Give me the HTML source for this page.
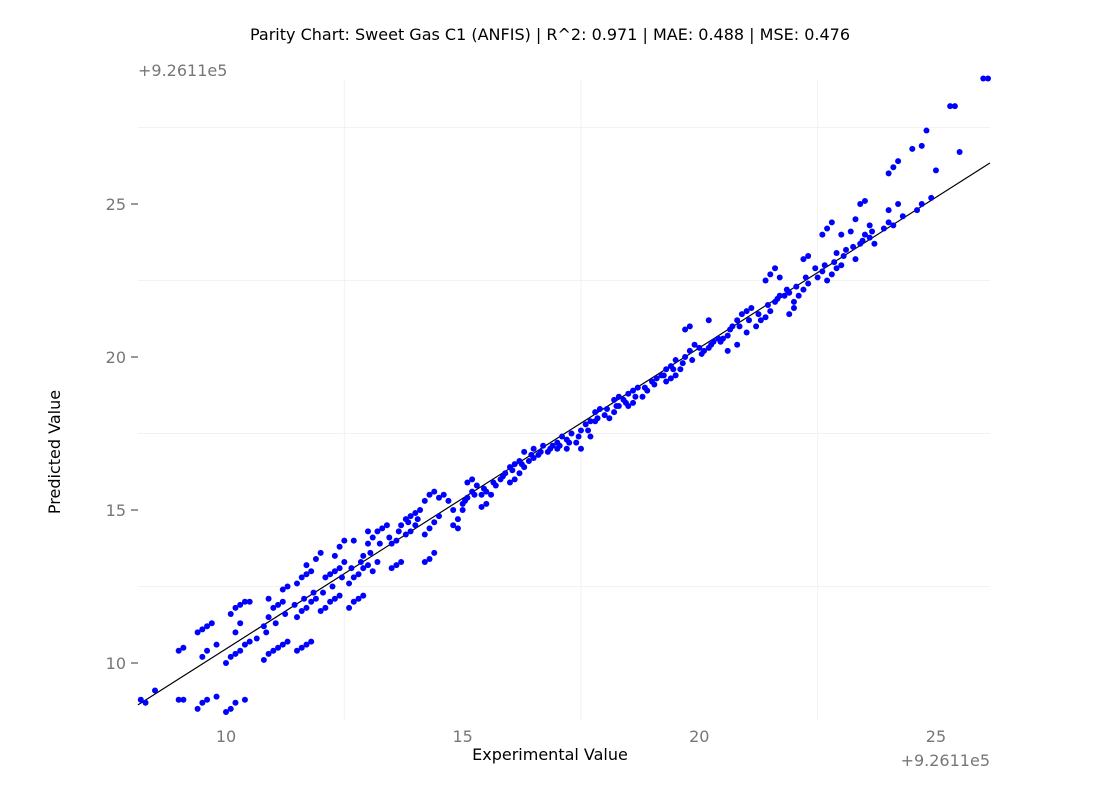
<!DOCTYPE html>
<html><head><meta charset="utf-8"><style>
body{margin:0;background:#fff;}
svg text{font-family:"DejaVu Sans","Liberation Sans",sans-serif;}
</style></head><body>
<svg id="chart" width="1100" height="800" xmlns="http://www.w3.org/2000/svg">
<rect width="1100" height="800" fill="#fff"/>
<text x="550" y="40" text-anchor="middle" font-size="16" fill="#000">Parity Chart: Sweet Gas C1 (ANFIS) | R^2: 0.971 | MAE: 0.488 | MSE: 0.476</text>
<text x="138" y="76" font-size="16" fill="#777">+9.2611e5</text>
<text x="990" y="766" text-anchor="end" font-size="16" fill="#777">+9.2611e5</text>
<text x="550" y="760" text-anchor="middle" font-size="16" fill="#000">Experimental Value</text>
<text transform="translate(60,452) rotate(-90)" text-anchor="middle" font-size="16" fill="#000">Predicted Value</text>
<g id="grid"></g><g id="ticks"></g><g id="line"></g><g id="points"></g>
</svg>
<script>
const xTicks=[10,15,20,25];
const yTicks=[10,15,20,25];
const xGrid=[12.5,17.5,22.5];
const yGrid=[12.5,17.5,22.5,27.5];
const parityLine=[[8.14,8.63],[26.14,26.34]];
const points=[[8.2,8.8],[8.3,8.7],[8.5,9.1],[9.0,8.8],[9.1,8.8],[9.0,10.4],[9.1,10.5],[9.4,11.0],[9.5,11.1],[9.6,11.2],[9.7,11.3],[9.5,10.2],[9.6,10.4],[9.8,10.6],[9.4,8.5],[9.5,8.7],[9.6,8.8],[9.8,8.9],[10.0,8.4],[10.1,8.5],[10.2,8.7],[10.4,8.8],[10.0,10.0],[10.1,10.2],[10.2,10.3],[10.3,10.4],[10.4,10.6],[10.5,10.7],[10.1,11.6],[10.2,11.8],[10.3,11.9],[10.4,12.0],[10.5,12.0],[10.3,11.3],[10.2,11.0],[10.8,10.1],[10.9,10.3],[11.0,10.4],[11.1,10.5],[11.2,10.6],[11.3,10.7],[10.8,11.2],[10.9,11.5],[11.0,11.8],[11.1,11.9],[11.2,12.0],[10.9,12.1],[11.2,12.4],[11.3,12.5],[11.5,10.4],[11.6,10.5],[11.7,10.6],[11.8,10.7],[11.5,11.5],[11.6,11.7],[11.7,11.8],[11.8,12.0],[11.9,12.1],[11.5,12.6],[11.6,12.8],[11.7,12.9],[11.8,13.0],[11.9,13.4],[12.0,13.6],[11.7,13.2],[12.0,11.7],[12.1,11.8],[12.2,12.0],[12.3,12.1],[12.4,12.2],[12.1,12.8],[12.2,12.9],[12.3,13.0],[12.4,13.1],[12.5,13.3],[12.3,13.5],[12.4,13.8],[12.5,14.0],[12.7,14.0],[12.6,11.8],[12.7,12.0],[12.8,12.1],[12.9,12.2],[12.6,12.6],[12.7,12.8],[12.8,12.9],[12.9,13.1],[13.0,13.2],[12.9,13.5],[13.0,13.9],[13.1,14.1],[13.2,14.3],[13.3,14.4],[13.4,14.5],[13.1,13.0],[13.2,13.3],[13.0,14.3],[13.5,13.1],[13.6,13.2],[13.7,13.3],[13.5,13.9],[13.6,14.0],[13.7,14.5],[13.8,14.7],[13.9,14.8],[14.0,14.9],[14.1,15.0],[13.8,14.2],[13.9,14.3],[14.0,14.5],[14.2,13.3],[14.3,13.4],[14.4,13.6],[14.2,14.2],[14.3,14.4],[14.4,14.6],[14.5,14.8],[14.2,15.3],[14.3,15.5],[14.4,15.6],[14.5,15.4],[14.6,15.5],[14.7,15.3],[14.8,15.0],[14.9,14.7],[15.0,15.0],[14.8,14.5],[14.9,14.4],[15.0,15.2],[15.1,15.4],[15.2,15.6],[15.3,15.8],[15.1,15.9],[15.2,16.0],[15.4,15.5],[15.5,15.6],[15.6,15.5],[15.4,15.1],[15.5,15.2],[15.7,15.8],[15.8,16.0],[15.9,16.2],[16.0,16.4],[16.1,16.5],[16.2,16.6],[16.0,15.9],[16.1,16.0],[16.2,16.2],[16.3,16.4],[16.4,16.6],[16.5,16.7],[16.6,16.8],[16.3,16.9],[16.5,17.0],[16.7,17.1],[16.8,16.9],[16.9,17.1],[17.0,17.2],[17.1,17.4],[17.2,17.3],[17.3,17.5],[17.0,17.0],[17.2,17.0],[17.4,17.2],[17.5,17.6],[17.6,17.8],[17.7,17.9],[17.8,17.9],[17.5,17.0],[17.7,17.4],[17.8,18.2],[17.9,18.3],[18.0,18.1],[18.1,18.0],[18.2,18.2],[18.3,18.4],[18.4,18.6],[18.5,18.8],[18.2,18.6],[18.3,18.7],[18.6,18.9],[18.7,19.0],[18.5,18.4],[18.6,18.5],[18.8,18.7],[18.9,18.9],[19.0,19.2],[19.1,19.3],[19.2,19.4],[19.3,19.6],[19.4,19.7],[19.5,19.9],[19.3,19.2],[19.4,19.3],[19.5,19.4],[19.6,19.6],[19.7,20.0],[19.8,20.2],[19.9,20.4],[20.0,20.3],[19.7,20.9],[19.8,21.0],[20.1,20.2],[20.2,20.3],[20.3,20.5],[20.4,20.6],[20.5,20.6],[20.2,21.2],[20.6,20.7],[20.7,21.0],[20.8,21.2],[20.9,21.4],[21.0,21.5],[21.1,21.6],[20.6,20.2],[20.8,20.4],[21.0,20.8],[21.2,21.0],[21.3,21.2],[21.4,21.3],[21.5,21.5],[21.6,21.8],[21.7,22.0],[21.4,22.5],[21.5,22.7],[21.6,22.9],[21.7,22.6],[21.8,22.0],[21.9,22.1],[22.0,21.8],[22.1,22.0],[21.9,21.4],[22.0,21.6],[22.2,23.2],[22.3,23.3],[22.2,22.2],[22.3,22.4],[22.5,22.6],[22.6,22.8],[22.7,22.5],[22.8,22.7],[22.9,22.9],[23.0,23.0],[22.6,24.0],[22.7,24.2],[22.8,24.4],[23.0,24.0],[22.9,23.4],[23.1,23.5],[23.2,24.1],[23.3,24.5],[23.4,25.0],[23.5,25.1],[23.3,23.2],[23.4,23.7],[23.5,24.0],[23.6,23.9],[23.7,23.7],[23.6,24.3],[23.9,24.2],[24.0,24.4],[24.1,24.3],[24.0,26.0],[24.1,26.2],[24.2,26.4],[24.0,24.8],[24.2,25.0],[24.3,24.6],[24.5,26.8],[24.7,26.9],[24.6,24.8],[24.7,25.0],[24.9,25.2],[24.8,27.4],[25.0,26.1],[25.3,28.2],[25.4,28.2],[25.5,26.7],[26.0,29.1],[26.1,29.1],
[15.05,15.3],[15.25,15.5],[15.45,15.7],[15.65,15.9],[15.85,16.1],[16.05,16.3],[16.25,16.5],[16.45,16.8],[16.65,16.9],[16.85,17.0],[17.05,17.1],[17.25,17.2],[17.45,17.4],[17.65,17.6],[17.85,18.0],[18.05,18.3],[18.25,18.4],[18.45,18.5],[18.65,18.7],[18.85,19.0],[19.05,19.1],[19.25,19.4],[19.45,19.6],[19.65,19.8],[19.85,19.9],[20.05,20.1],[20.25,20.4],[20.45,20.5],[20.65,20.9],[20.85,21.0],[21.05,21.2],[21.25,21.4],[21.45,21.7],[21.65,21.9],[21.85,22.2],[22.05,22.3],[22.25,22.6],[22.45,22.9],[22.65,23.0],[22.85,23.1],[23.05,23.3],[23.25,23.6],[23.45,23.8],[23.65,24.1],[14.05,14.7],[13.85,14.6],[13.65,14.3],[13.45,14.1],[13.25,13.9],[13.05,13.6],[12.85,13.3],[12.65,13.1],[12.45,12.8],[12.25,12.5],[12.05,12.3],[11.85,12.3],[11.65,12.1],[11.45,11.9],[11.25,11.6],[11.05,11.3],[10.85,11.0],[10.65,10.8]];
const NS="http://www.w3.org/2000/svg";
const X0=138,X1=990,Y0=80,Y1=720;
function sx(v){return 226+(v-10)*47.33;}
function sy(v){return 663-(v-10)*30.6;}
function mk(t,a,p){const e=document.createElementNS(NS,t);for(const k in a)e.setAttribute(k,a[k]);p.appendChild(e);return e;}
const grid=document.getElementById('grid'),ticks=document.getElementById('ticks'),lineG=document.getElementById('line'),pts=document.getElementById('points');
xGrid.forEach(v=>{const e=mk('line',{x1:sx(v),x2:sx(v),y1:Y0,y2:Y1,stroke:'#f2f2f2','stroke-width':1},grid);

});
yGrid.forEach(v=>{const e=mk('line',{x1:X0,x2:X1,y1:sy(v),y2:sy(v),stroke:'#f2f2f2','stroke-width':1},grid);

});
xTicks.forEach(v=>{const t=mk('text',{x:sx(v),y:742,'text-anchor':'middle','font-size':16,fill:'#777'},ticks);t.textContent=v;

});
yTicks.forEach(v=>{const t=mk('text',{x:126,y:sy(v)+6,'text-anchor':'end','font-size':16,fill:'#777'},ticks);t.textContent=v;


const m=mk('line',{x1:131,x2:138,y1:sy(v),y2:sy(v),stroke:'#777','stroke-width':1.5},ticks);

});
points.forEach(p=>{const c=mk('circle',{cx:sx(p[0]),cy:sy(p[1]),r:3,fill:'#0000ff'},pts);

});
const l=mk('line',{x1:sx(parityLine[0][0]),y1:sy(parityLine[0][1]),x2:sx(parityLine[1][0]),y2:sy(parityLine[1][1]),stroke:'#000','stroke-width':1.2},lineG);


</script>
</body></html>
